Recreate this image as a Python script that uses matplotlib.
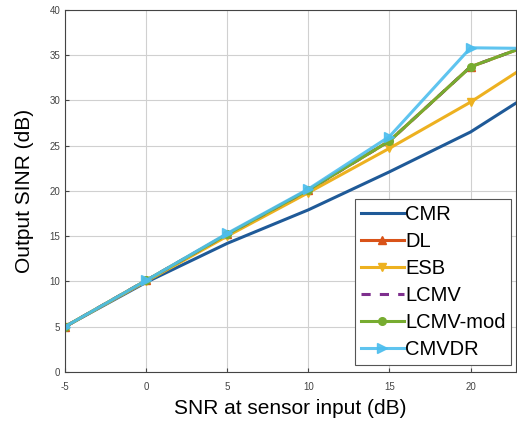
import numpy as np
import matplotlib.pyplot as plt

plt.rcParams.update({
    "font.family": ["Liberation Sans", "DejaVu Sans"],
    "xtick.direction": "in",
    "ytick.direction": "in",
    "axes.unicode_minus": False,
})

snr_in = [-5, 0, 5, 10, 15, 20, 25]

cmr = [5.0, 9.9, 14.2, 17.9, 22.1, 26.5, 32.2]
dl = [5.0, 10.1, 15.2, 20.1, 25.5, 33.7, 37.0]
esb = [5.0, 10.0, 15.0, 19.8, 24.7, 29.8, 35.6]
lcmv = [5.0, 10.1, 15.2, 20.1, 25.5, 33.7, 37.0]
lcmv_mod = [5.0, 10.1, 15.2, 20.1, 25.5, 33.7, 37.0]
cmvdr = [5.0, 10.1, 15.3, 20.2, 26.0, 35.8, 35.7]

C_BLUE = "#1f5a98"
C_ORANGE = "#d95319"
C_YELLOW = "#edb120"
C_PURPLE = "#7e2f8e"
C_GREEN = "#77ac30"
C_CYAN = "#4dbeee"

fig = plt.figure(figsize=(5.17, 4.25), dpi=100)
ax = fig.add_axes([0.126, 0.125, 0.872, 0.852])

lw = 2.2
ax.plot(snr_in, cmr, color=C_BLUE, lw=lw, label="CMR")
ax.plot(snr_in, dl, color=C_ORANGE, lw=lw, marker="^", ms=6, label="DL")
ax.plot(snr_in, esb, color=C_YELLOW, lw=lw, marker="v", ms=6, label="ESB")
ax.plot(snr_in, lcmv, color=C_PURPLE, lw=lw, ls=(0, (3, 3)), label="LCMV")
ax.plot(snr_in, lcmv_mod, color=C_GREEN, lw=lw, marker="o", ms=5.5, label="LCMV-mod")
ax.plot(snr_in, cmvdr, color=C_CYAN, lw=lw, marker=">", ms=7, label="CMVDR",
        alpha=0.9)

ax.set_xlim(-5, 22.8)
ax.set_ylim(0, 40)
ax.set_xticks([-5, 0, 5, 10, 15, 20])
ax.set_yticks(range(0, 41, 5))
ax.tick_params(labelsize=7, colors="#444444", length=3)
ax.tick_params(axis="x", pad=7)
ax.grid(True, color="#d0d0d0", lw=0.8)
for s in ax.spines.values():
    s.set_color("#444444")

ax.set_xlabel("SNR at sensor input (dB)", fontsize=15, labelpad=5)
ax.set_ylabel("Output SINR (dB)", fontsize=15, labelpad=11)

leg = ax.legend(loc="lower right", bbox_to_anchor=(0.99, 0.018), fontsize=14.5,
                handlelength=2.15, handletextpad=0.05, labelspacing=0.4,
                borderpad=0.3, borderaxespad=0, fancybox=False, framealpha=1,
                edgecolor="#555555")
leg.get_frame().set_linewidth(0.8)

fig.savefig("out.png", dpi=100)
